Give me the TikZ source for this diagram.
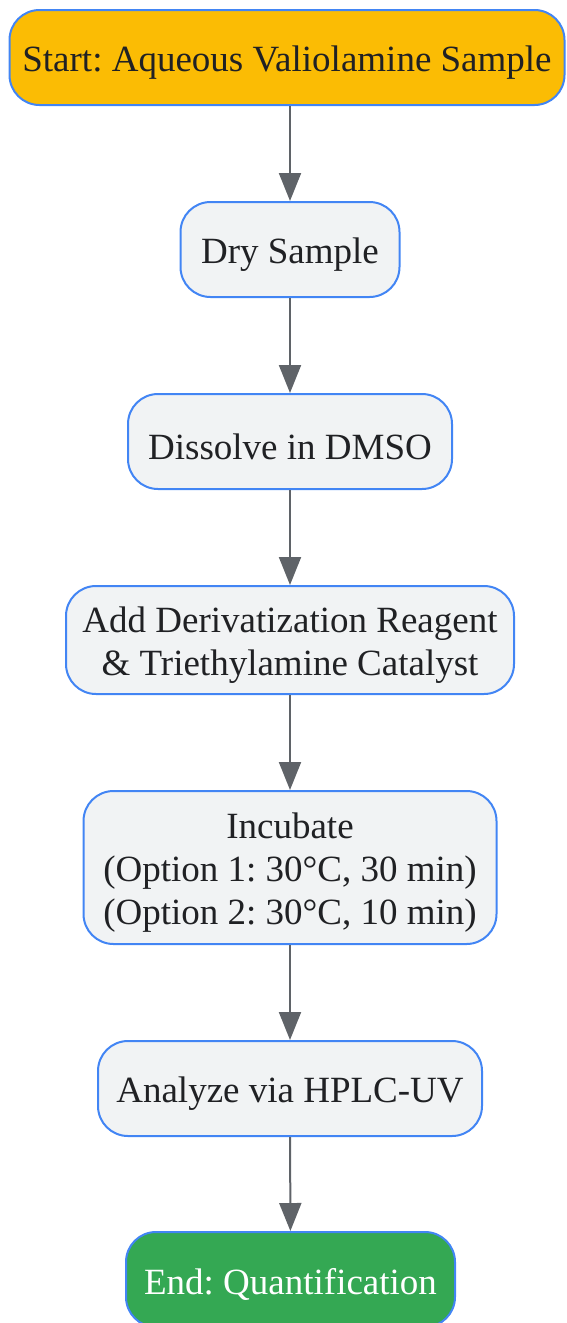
\documentclass[tikz,border=0pt]{standalone}
\usepackage{fontspec}
\setmainfont{Liberation Serif}
\usetikzlibrary{arrows.meta}
\frenchspacing

\definecolor{stepblue}{HTML}{4285F4}
\definecolor{stepfill}{HTML}{F1F3F4}
\definecolor{startyellow}{HTML}{FBBC04}
\definecolor{endgreen}{HTML}{34A853}
\definecolor{arrowgray}{HTML}{5F6368}
\definecolor{textdark}{HTML}{202124}

\newcommand{\topstrut}{\rule{0pt}{36pt}}

\tikzset{
  stepbox/.style={draw=stepblue, line width=2pt, rounded corners=30pt, fill=stepfill,
    text=textdark, align=center, inner sep=0pt,
    font=\fontsize{37}{43}\selectfont},
  flowarrow/.style={draw=arrowgray, line width=2pt, -{Triangle[length=28pt,width=22pt]}}
}

\begin{document}
\begin{tikzpicture}[x=1pt,y=-1pt]
      \useasboundingbox (0,0) rectangle (566,1323);

      \node[stepbox, fill=startyellow, minimum width=555pt, minimum height=95pt] (start) at (287,57.5) {\topstrut Start: Aqueous Valiolamine Sample};
      \node[stepbox, minimum width=219pt, minimum height=95pt] (dry) at (290,249.5) {\topstrut Dry Sample};
      \node[stepbox, minimum width=324pt, minimum height=95pt] (dissolve) at (290,441.5) {\topstrut Dissolve in DMSO};
      \node[stepbox, minimum width=448pt, minimum height=108pt] (reagent) at (290,640) {\topstrut Add Derivatization Reagent\\\& Triethylamine Catalyst};
      \node[stepbox, minimum width=413pt, minimum height=153pt] (incubate) at (290,867.5) {\topstrut Incubate\\(Option 1: 30°C, 30 min)\\(Option 2: 30°C, 10 min)};
      \node[stepbox, minimum width=384pt, minimum height=95pt] (analyze) at (290,1088.5) {\topstrut Analyze via HPLC-UV};
      \node[stepbox, fill=endgreen, text=white, minimum width=329pt, minimum height=95pt] (finish) at (290.5,1279.5) {\topstrut End: Quantification};

      \draw[flowarrow] (start.south -| dry.north) -- (dry.north);
      \draw[flowarrow] (dry) -- (dissolve);
      \draw[flowarrow] (dissolve) -- (reagent);
      \draw[flowarrow] (reagent) -- (incubate);
      \draw[flowarrow] (incubate) -- (analyze);
      \draw[flowarrow] (analyze) -- (finish);

    \end{tikzpicture}
\end{document}
